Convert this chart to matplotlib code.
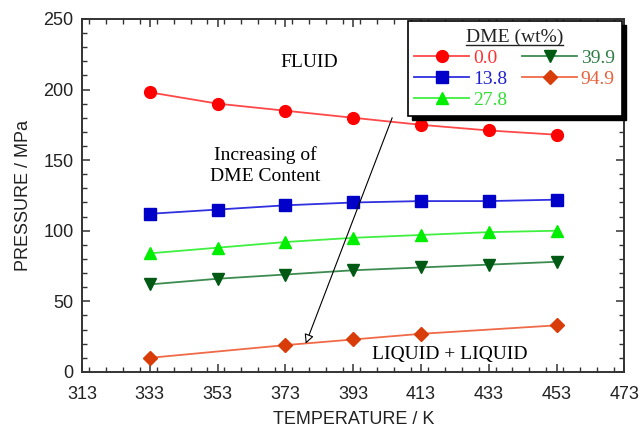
import matplotlib
matplotlib.use("Agg")
import matplotlib.pyplot as plt
from matplotlib.ticker import MultipleLocator
from matplotlib.lines import Line2D
from matplotlib.patches import Rectangle
from matplotlib.transforms import IdentityTransform

# data
temps = [333, 353, 373, 393, 413, 433, 453]
p_00 = [198, 190, 185, 180, 175, 171, 168]
p_138 = [112, 115, 118, 120, 121, 121, 122]
p_278 = [84, 88, 92, 95, 97, 99, 100]
p_399 = [62, 66, 69, 72, 74, 76, 78]
temps_949 = [333, 373, 393, 413, 453]
p_949 = [10, 19, 23, 27, 33]

labels = ["0.0", "13.8", "27.8", "39.9", "94.9"]

sans = "Liberation Sans"
serif = "Liberation Serif"

fig = plt.figure(figsize=(6.41, 4.30), dpi=100)
ax = fig.add_axes([0.128, 0.135, 0.846, 0.821])

series = [
    (temps, p_00, "#ff4848", "#ff0000", "o", 8.5, "#ff3030"),
    (temps, p_138, "#3030e0", "#0000c8", "s", 8, "#2020d0"),
    (temps, p_278, "#40f040", "#00ee00", "^", 9, "#30e030"),
    (temps, p_399, "#3c8c50", "#005a14", "v", 9, "#2e7d46"),
    (temps_949, p_949, "#f06a48", "#d83c08", "D", 7.5, "#e8603a"),
]

handles = []
for (x, y, lc, mc, m, ms, tc), lab in zip(series, labels):
    h, = ax.plot(x, y, color=lc, lw=1.3, marker=m, ms=ms, mfc=mc, mec=mc, label=lab)
    handles.append(h)

ax.set_xlim(313, 473)
ax.set_ylim(0, 250)
ax.set_xticks(range(313, 474, 20))
ax.xaxis.set_minor_locator(MultipleLocator(5))
ax.yaxis.set_major_locator(MultipleLocator(50))
ax.yaxis.set_minor_locator(MultipleLocator(10))
ax.tick_params(which="both", direction="in", top=True, right=True, color="#333333")
ax.tick_params(which="major", length=6, width=1.1, labelsize=13)
ax.tick_params(axis="x", which="major", pad=10)
ax.tick_params(axis="y", which="major", pad=6)
ax.tick_params(which="minor", length=3.5, width=1.0)
for lab in ax.get_xticklabels() + ax.get_yticklabels():
    lab.set_fontfamily(sans)
    lab.set_color("#222222")
for s in ax.spines.values():
    s.set_color("#333333")
    s.set_linewidth(1.4)

ax.set_xlabel("TEMPERATURE / K", fontsize=13, fontfamily=sans, color="#222222", labelpad=6)
ax.set_ylabel("PRESSURE / MPa", fontsize=13, fontfamily=sans, color="#222222", labelpad=8)

# annotations
ax.text(380, 219, "FLUID", fontsize=14, fontfamily=serif, ha="center", va="center")
ax.text(367, 146, "Increasing of\nDME Content", fontsize=14, fontfamily=serif,
        ha="center", va="center", linespacing=1.3)
ax.text(421.5, 12.5, "LIQUID + LIQUID", fontsize=14, fontfamily=serif, ha="center", va="center")
ax.annotate("", xy=(379, 20), xytext=(404.5, 180),
            arrowprops=dict(arrowstyle="-|>", fc="white", ec="black", lw=0.8,
                            mutation_scale=14, shrinkA=0, shrinkB=0))

leg = ax.legend(handles=handles, ncol=2, loc="upper right", bbox_to_anchor=(0.995, 0.993),
                borderaxespad=0, title="DME (wt%)", title_fontsize=14,
                prop={"family": serif, "size": 14},
                frameon=True, fancybox=False, edgecolor="black", framealpha=1,
                handlelength=2.8, handletextpad=0.2, columnspacing=0.8,
                labelspacing=0.18, borderpad=0.35)
leg.get_title().set_fontfamily(serif)
leg.get_title().set_color("#222222")
leg.get_frame().set_linewidth(1.2)
for t, s in zip(leg.get_texts(), series):
    t.set_color(s[6])

# underline the legend title, thick black drop shadow behind the box
fig.canvas.draw()
bb = leg.get_title().get_window_extent().transformed(fig.transFigure.inverted())
fig.add_artist(Line2D([bb.x0, bb.x1], [bb.y0 + 0.002, bb.y0 + 0.002],
                      transform=fig.transFigure, color="#222222", lw=1))
fb = leg.get_frame().get_window_extent()
ax.add_patch(Rectangle((fb.x0 + 4, fb.y0 - 4), fb.width, fb.height,
                       transform=IdentityTransform(), color="black", zorder=4.9,
                       clip_on=False))

fig.savefig("out.png", dpi=100)
